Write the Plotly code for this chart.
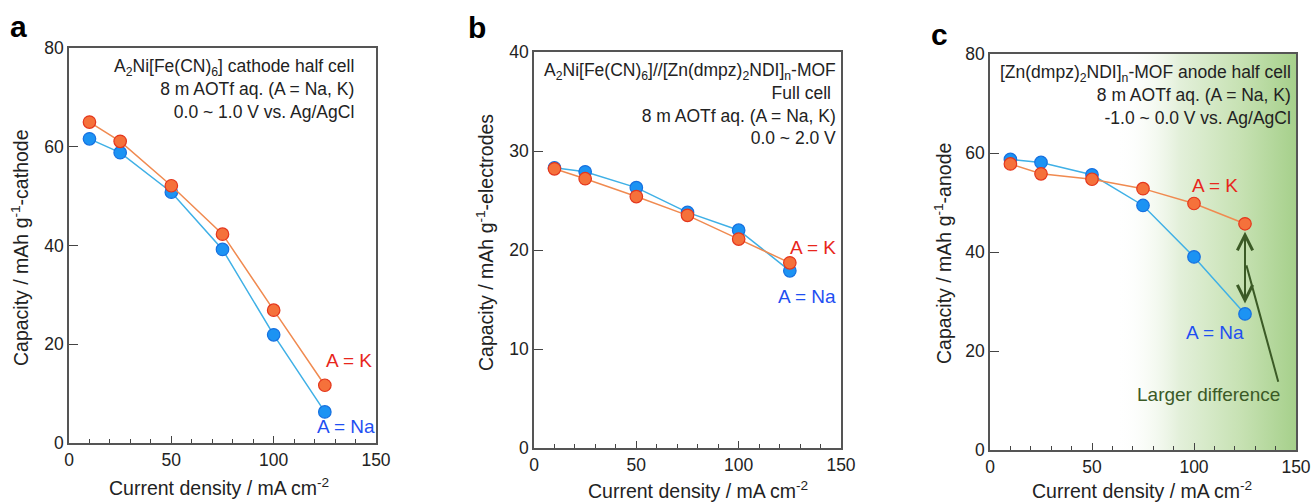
import plotly.graph_objects as go

# data
current = [10, 25, 50, 75, 100, 125]

a_na = [61.6, 58.8, 50.8, 39.2, 21.9, 6.3]
a_k = [65.0, 61.1, 52.1, 42.3, 26.9, 11.7]

b_na = [28.3, 27.9, 26.3, 23.8, 22.0, 17.9]
b_k = [28.2, 27.2, 25.4, 23.5, 21.1, 18.7]

c_na = [58.7, 58.1, 55.6, 49.4, 39.0, 27.5]
c_k = [57.8, 55.8, 54.7, 52.8, 49.8, 45.7]

y_max = [80, 40, 80]
y_step = [20, 10, 20]

# green shaded region in panel c
shade_x = [62, 150]

W, H = 1312, 502
FONT = "Arial, Liberation Sans, sans-serif"
K_FILL, K_EDGE, K_LINE = "#f5713b", "#e4361c", "#f08a50"
NA_FILL, NA_EDGE, NA_LINE = "#1c93f3", "#1670e0", "#3fb0e6"
K_TEXT, NA_TEXT = "#e8261c", "#1f4ff2"
GREEN = "#3b5a26"

# plot boxes in window pixels: left, right, top, bottom
boxes = [(69, 376, 48, 443), (534, 841, 52, 448), (990, 1296, 54, 450)]
SFX = ["", "2", "3"]


def dom(i, x, y):
    # window pixel -> fraction of panel i's axis domain
    l, r, t, b = boxes[i]
    return (x - l) / (r - l), (b - y) / (b - t)


fig = go.Figure()

# shaded gradient region (panel c), drawn first so it sits behind the data
fig.add_trace(go.Scatter(
    x=[shade_x[0], shade_x[1], shade_x[1], shade_x[0], shade_x[0]],
    y=[0, 0, y_max[2], y_max[2], 0],
    xaxis="x3", yaxis="y3",
    mode="none", fill="toself",
    fillgradient=dict(type="horizontal",
                      colorscale=[[0, "rgba(255,255,255,0)"],
                                  [0.35, "#e3f0da"],
                                  [0.7, "#c6e1b2"],
                                  [1, "#a6d08b"]]),
    hoverinfo="skip", showlegend=False,
))

series = [(a_na, a_k), (b_na, b_k), (c_na, c_k)]
for i, (na, k) in enumerate(series):
    fig.add_trace(go.Scatter(
        x=current, y=na, xaxis="x" + SFX[i], yaxis="y" + SFX[i], mode="lines+markers",
        line=dict(color=NA_LINE, width=1.5),
        marker=dict(size=12.5, color=NA_FILL, line=dict(color=NA_EDGE, width=1.2)),
        showlegend=False,
    ))
    fig.add_trace(go.Scatter(
        x=current, y=k, xaxis="x" + SFX[i], yaxis="y" + SFX[i], mode="lines+markers",
        line=dict(color=K_LINE, width=1.5),
        marker=dict(size=12.5, color=K_FILL, line=dict(color=K_EDGE, width=1.2)),
        showlegend=False,
    ))

layout = dict(
    template="none",
    width=W, height=H,
    margin=dict(l=0, r=0, t=0, b=0, pad=0, autoexpand=False),
    paper_bgcolor="white", plot_bgcolor="white",
    font=dict(family=FONT, color="#222222"),
    showlegend=False,
)

for i, (l, r, t, b) in enumerate(boxes):
    sfx = SFX[i]
    layout["xaxis" + sfx] = dict(
        domain=[l / W, r / W], anchor="y" + sfx, automargin=False,
        range=[0, 150], tickvals=[0, 50, 100, 150], ticklabeloverflow="allow",
        ticks="inside", ticklen=7, tickwidth=1.2, tickcolor="#444",
        minor=dict(dtick=10, ticks="inside", ticklen=4, tickwidth=1.2, tickcolor="#444"),
        showline=True, linecolor="#555", linewidth=1.5, mirror=True,
        showgrid=False, zeroline=False,
        tickfont=dict(size=17.5, color="#222"),
    )
    layout["yaxis" + sfx] = dict(
        domain=[1 - b / H, 1 - t / H], anchor="x" + sfx, automargin=False,
        range=[0, y_max[i]], dtick=y_step[i],
        ticks="inside", ticklen=9, tickwidth=1.2, tickcolor="#444",
        showline=True, linecolor="#555", linewidth=1.5, mirror=True,
        showgrid=False, zeroline=False,
        tickfont=dict(size=17.5, color="#222"),
    )

fig.update_layout(**layout)

ann = []


def dom_ann(i, x, y, **kw):
    fx, fy = dom(i, x, y)
    d = dict(x=fx, y=fy, xref=f"x{SFX[i]} domain", yref=f"y{SFX[i]} domain",
             xanchor="center", yanchor="middle", showarrow=False)
    d.update(kw)
    return d


# panel letters
for i, (letter, (x, y)) in enumerate(zip("abc", [(18, 27), (477, 27), (940, 35)])):
    ann.append(dom_ann(i, x, y, text=f"<b>{letter}</b>", font=dict(size=30, color="black")))

# axis titles
ytitles = ["Capacity / mAh g<sup>-1</sup>-cathode",
           "Capacity / mAh g<sup>-1</sup>-electrodes",
           "Capacity / mAh g<sup>-1</sup>-anode"]
for i, (txt, (x, y)) in enumerate(zip(ytitles, [(20, 248), (485, 243), (943, 253)])):
    ann.append(dom_ann(i, x, y, text=txt, textangle=-90, font=dict(size=19.5, color="#222")))
for i, (x, y) in enumerate([(219, 487), (698, 490), (1142, 490)]):
    ann.append(dom_ann(i, x, y, text="Current density / mA cm<sup>-2</sup>",
                       font=dict(size=19.5, color="#222")))

# header texts inside each panel
headers = [
    "A<sub>2</sub>Ni[Fe(CN)<sub>6</sub>] cathode half cell<br>8 m AOTf aq. (A = Na, K)<br>0.0 ~ 1.0 V vs. Ag/AgCl",
    "A<sub>2</sub>Ni[Fe(CN)<sub>6</sub>]//[Zn(dmpz)<sub>2</sub>NDI]<sub>n</sub>-MOF<br>Full cell <br>8 m AOTf aq. (A = Na, K)<br>0.0 ~ 2.0 V",
    "[Zn(dmpz)<sub>2</sub>NDI]<sub>n</sub>-MOF anode half cell<br>8 m AOTf aq. (A = Na, K)<br>-1.0 ~ 0.0 V vs. Ag/AgCl",
]
for i, (txt, xr) in enumerate(zip(headers, [0.935, 0.99, 0.99])):
    ann.append(dict(text=txt, x=xr, y=0.985, xref=f"x{SFX[i]} domain", yref=f"y{SFX[i]} domain",
                    xanchor="right", yanchor="top", align="right", showarrow=False,
                    font=dict(size=17.5, color="#222")))

# series labels
labels = [
    ("", "A = K", 136.8, 16.8, K_TEXT), ("", "A = Na", 135.3, 3.4, NA_TEXT),
    ("2", "A = K", 136.4, 20.3, K_TEXT), ("2", "A = Na", 133.5, 15.3, NA_TEXT),
    ("3", "A = K", 110.2, 53.5, K_TEXT), ("3", "A = Na", 110.2, 23.8, NA_TEXT),
]
for sfx, txt, x, y, col in labels:
    ann.append(dict(text=txt, x=x, y=y, xref="x" + sfx, yref="y" + sfx, showarrow=False,
                    font=dict(size=19, color=col)))

ann.append(dict(text="Larger difference", x=107.2, y=11.3, xref="x3", yref="y3",
                showarrow=False, font=dict(size=19, color=GREEN)))

# double-headed arrow between K and Na at the highest current
ann.append(dict(x=current[-1], y=c_k[-1] - 1.6, ax=current[-1], ay=c_na[-1] + 1.8,
                xref="x3", yref="y3", axref="x3", ayref="y3", text="",
                showarrow=True, arrowhead=5, startarrowhead=5, arrowside="end+start",
                arrowsize=1.5, startarrowsize=1.5, arrowwidth=2, arrowcolor=GREEN))
# pointer from the label to the arrow
ann.append(dict(x=125.7, y=37.3, ax=141.5, ay=13.5, xref="x3", yref="y3",
                axref="x3", ayref="y3", text="", showarrow=True, arrowhead=0,
                arrowwidth=2, arrowcolor=GREEN, standoff=0, startstandoff=0))

fig.update_layout(annotations=ann)

# drop the default body margin so the figure fills the window exactly
fig.write_html("out.html", config={"displayModeBar": False},
               post_script="document.body.style.margin='0';")
